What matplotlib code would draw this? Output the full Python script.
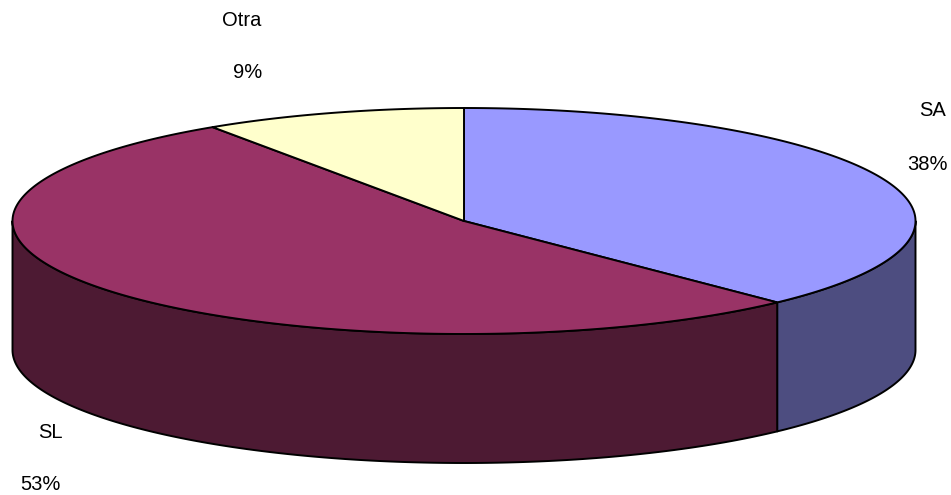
import numpy as np
import matplotlib
matplotlib.use("Agg")
from matplotlib import pyplot as plt
from matplotlib.patches import Polygon

labels = ["SA", "SL", "Otra"]
values = [37.8, 52.8, 9.4]
top_colors = ["#9999FF", "#993366", "#FFFFCC"]
side_colors = ["#4D4D80", "#4D1A33", "#80806A"]

# label spots (name, percent) in pixel coords
name_pos = [(933, 111), (50, 433), (242, 20)]
pct_pos = [(927, 164), (40, 485), (248, 72)]

cx, cy = 464, 221
a, b = 451.5, 113
depth = 129

plt.rcParams['font.family'] = ['Liberation Sans', 'DejaVu Sans']

fig = plt.figure(figsize=(9.51, 4.95), dpi=100)
ax = fig.add_axes([0, 0, 1, 1])
ax.set_xlim(0, 951)
ax.set_ylim(495, 0)
ax.axis("off")


def ell(t, dz=0):
    t = np.radians(t)
    return np.column_stack([cx + a * np.cos(t), cy - b * np.sin(t) + dz])


total = sum(values)
angles = []
start = 90.0
for v in values:
    end = start - 360.0 * v / total
    angles.append((start, end))
    start = end

# sides (only front half, -180..0)
for (s, e), col in zip(angles, side_colors):
    for shift in (0, -360, 360):
        lo = max(e + shift, -180)
        hi = min(s + shift, 0)
        if hi > lo:
            t = np.linspace(hi, lo, 200)
            pts = np.vstack([ell(t), ell(t[::-1], depth)])
            ax.add_patch(Polygon(pts, closed=True, facecolor=col,
                                 edgecolor="black", lw=1.4, joinstyle="round"))

# tops
for (s, e), col in zip(angles, top_colors):
    t = np.linspace(s, e, 300)
    pts = np.vstack([[cx, cy], ell(t)])
    ax.add_patch(Polygon(pts, closed=True, facecolor=col,
                         edgecolor="black", lw=1.4, joinstyle="round"))

for lab, v, p1, p2 in zip(labels, values, name_pos, pct_pos):
    ax.text(p1[0], p1[1], lab, fontsize=14.5, ha="center", va="center")
    ax.text(p2[0], p2[1], f"{v / total * 100:.0f}%", fontsize=14.5,
            ha="center", va="center")

fig.savefig("out.png", dpi=100)
